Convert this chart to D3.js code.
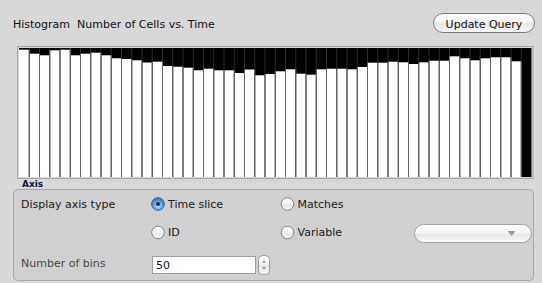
<!DOCTYPE html>
<html>
<head>
<meta charset="utf-8">
<script src="https://cdn.jsdelivr.net/npm/d3@7"></script>
<style>
  html, body { margin: 0; padding: 0; background: #d8d8d8; }
  svg { display: block; font-family: "DejaVu Sans", sans-serif; }
</style>
</head>
<body>
<div id="chart"></div>
<script>
// Histogram data: 50 time-slice bins, cell count per bin
const bins = d3.range(1, 51);
const cellCounts = [
  127.3, 123.3, 121.7, 126.7, 127.3, 121.7, 123.3, 124.3, 121.7, 118.7,
  118.0, 116.7, 114.5, 115.3, 111.0, 110.3, 109.3, 106.7, 108.3, 106.7,
  106.7, 104.0, 107.5, 101.7, 103.0, 105.7, 107.7, 103.3, 102.3, 107.7,
  108.3, 108.3, 107.7, 110.0, 114.3, 114.3, 115.3, 114.7, 113.0, 114.7,
  116.3, 116.3, 120.7, 118.7, 116.7, 118.7, 119.7, 119.7, 115.7, 0
];
const countMax = 129;

const axisTypes = [
  { label: 'Time slice', col: 0, row: 0, checked: true },
  { label: 'Matches', col: 1, row: 0, checked: false },
  { label: 'ID', col: 0, row: 1, checked: false },
  { label: 'Variable', col: 1, row: 1, checked: false }
];
const numberOfBins = 50;

const width = 542, height = 283;

const svg = d3.select('#chart').append('svg')
    .attr('width', width)
    .attr('height', height);

const defs = svg.append('defs');

// Aqua-ish gradients for the controls
const btnGrad = defs.append('linearGradient')
    .attr('id', 'btnGrad').attr('x1', 0).attr('y1', 0).attr('x2', 0).attr('y2', 1);
btnGrad.append('stop').attr('offset', '0%').attr('stop-color', '#ffffff');
btnGrad.append('stop').attr('offset', '50%').attr('stop-color', '#f3f3f3');
btnGrad.append('stop').attr('offset', '51%').attr('stop-color', '#e6e6e6');
btnGrad.append('stop').attr('offset', '100%').attr('stop-color', '#f8f8f8');

const blueGrad = defs.append('radialGradient')
    .attr('id', 'blueGrad').attr('cx', '50%').attr('cy', '65%').attr('r', '60%');
blueGrad.append('stop').attr('offset', '0%').attr('stop-color', '#bfe0ff');
blueGrad.append('stop').attr('offset', '60%').attr('stop-color', '#5fa2ea');
blueGrad.append('stop').attr('offset', '100%').attr('stop-color', '#2f6fc9');

// Title
svg.append('text')
    .attr('x', 13)
    .attr('y', 28)
    .style('font-size', '11px')
    .style('fill', '#111')
    .attr('xml:space', 'preserve')
    .text('Histogram  Number of Cells vs. Time');

// Update Query button
const btn = svg.append('g').attr('transform', 'translate(433.5,13.5)');
btn.append('rect')
    .attr('width', 101)
    .attr('height', 19)
    .attr('rx', 9.5)
    .attr('fill', 'url(#btnGrad)')
    .attr('stroke', '#7b7b7b');
btn.append('text')
    .attr('x', 50.5)
    .attr('y', 14)
    .attr('text-anchor', 'middle')
    .style('font-size', '11px')
    .style('fill', '#111')
    .text('Update Query');

// Histogram plot
const plot = { left: 19, right: 531.5, top: 48, bottom: 177 };

const x = d3.scaleBand()
    .domain(bins)
    .range([plot.left, plot.right])
    .padding(0);

const y = d3.scaleLinear()
    .domain([0, countMax])
    .range([plot.bottom, plot.top]);

// frame
svg.append('rect')
    .attr('x', plot.left - 1.5)
    .attr('y', plot.top - 1.5)
    .attr('width', plot.right - plot.left + 3)
    .attr('height', plot.bottom - plot.top + 3)
    .attr('fill', 'none')
    .attr('stroke', '#a4a4a4');

svg.append('rect')
    .attr('x', plot.left)
    .attr('y', plot.top)
    .attr('width', plot.right - plot.left)
    .attr('height', plot.bottom - plot.top)
    .attr('fill', '#000');

const bars = svg.append('g');

bars.selectAll('rect')
    .data(cellCounts)
    .join('rect')
    .attr('x', (d, i) => x(bins[i]))
    .attr('y', d => y(d))
    .attr('width', x.bandwidth())
    .attr('height', d => plot.bottom - y(d))
    .attr('fill', '#fff');

// separators: dark over the black, gray over the white bars
bars.selectAll('line.sepDark')
    .data(bins.slice(1))
    .join('line')
    .attr('class', 'sepDark')
    .attr('x1', d => x(d)).attr('x2', d => x(d))
    .attr('y1', plot.top).attr('y2', plot.bottom)
    .attr('stroke', '#2c2c2c');

bars.selectAll('line.sep')
    .data(cellCounts.slice(1))
    .join('line')
    .attr('class', 'sep')
    .attr('x1', (d, i) => x(bins[i + 1])).attr('x2', (d, i) => x(bins[i + 1]))
    .attr('y1', (d, i) => y(Math.max(d, cellCounts[i])))
    .attr('y2', plot.bottom)
    .attr('stroke', '#666');

// axis caption
svg.append('text')
    .attr('x', 22)
    .attr('y', 187)
    .style('font-size', '9px')
    .style('font-weight', 'bold')
    .style('fill', '#14143a')
    .text('Axis');

// options panel
svg.append('rect')
    .attr('x', 13.5)
    .attr('y', 189.5)
    .attr('width', 520)
    .attr('height', 91)
    .attr('rx', 4)
    .attr('fill', '#d0d0d0')
    .attr('stroke', '#a8a8a8');

svg.append('text')
    .attr('x', 21)
    .attr('y', 207.5)
    .style('font-size', '11px')
    .style('fill', '#1a1a1a')
    .text('Display axis type');

const colX = [158, 287.5];
const rowY = [204, 232.5];

const radios = svg.selectAll('g.radio')
    .data(axisTypes)
    .join('g')
    .attr('class', 'radio')
    .attr('transform', d => `translate(${colX[d.col]},${rowY[d.row]})`);

radios.append('circle')
    .attr('r', 6.3)
    .attr('fill', d => d.checked ? 'url(#blueGrad)' : 'url(#btnGrad)')
    .attr('stroke', d => d.checked ? '#3a5f95' : '#858585');

radios.filter(d => d.checked).append('circle')
    .attr('r', 2)
    .attr('fill', '#1c2433');

radios.append('text')
    .attr('x', 10)
    .attr('y', 3.8)
    .style('font-size', '11px')
    .style('fill', '#1a1a1a')
    .text(d => d.label);

// disabled popup
const popup = svg.append('g').attr('transform', 'translate(414.5,224.5)');
popup.append('rect')
    .attr('width', 117)
    .attr('height', 18)
    .attr('rx', 9)
    .attr('fill', 'url(#btnGrad)')
    .attr('stroke', '#a2a2a2');
popup.append('path')
    .attr('d', 'M93,6.5 L101,6.5 L97,11.5 Z')
    .attr('fill', '#9a9a9a');

// number of bins field
svg.append('text')
    .attr('x', 21)
    .attr('y', 267)
    .style('font-size', '11px')
    .style('fill', '#4a4a4a')
    .text('Number of bins');

svg.append('rect')
    .attr('x', 152.5)
    .attr('y', 256.5)
    .attr('width', 103)
    .attr('height', 17)
    .attr('fill', '#fff')
    .attr('stroke', '#9d9d9d');

svg.append('text')
    .attr('x', 156)
    .attr('y', 268.5)
    .style('font-size', '11px')
    .style('fill', '#111')
    .text(numberOfBins);

const stepper = svg.append('g').attr('transform', 'translate(258.5,255.5)');
stepper.append('rect')
    .attr('width', 11)
    .attr('height', 19)
    .attr('rx', 4)
    .attr('fill', 'url(#btnGrad)')
    .attr('stroke', '#9a9a9a');
stepper.append('path')
    .attr('d', 'M3.5,7.5 L7.5,7.5 L5.5,4.5 Z M3.5,11.5 L7.5,11.5 L5.5,14.5 Z')
    .attr('fill', '#a0a0a0');
</script>
</body>
</html>
